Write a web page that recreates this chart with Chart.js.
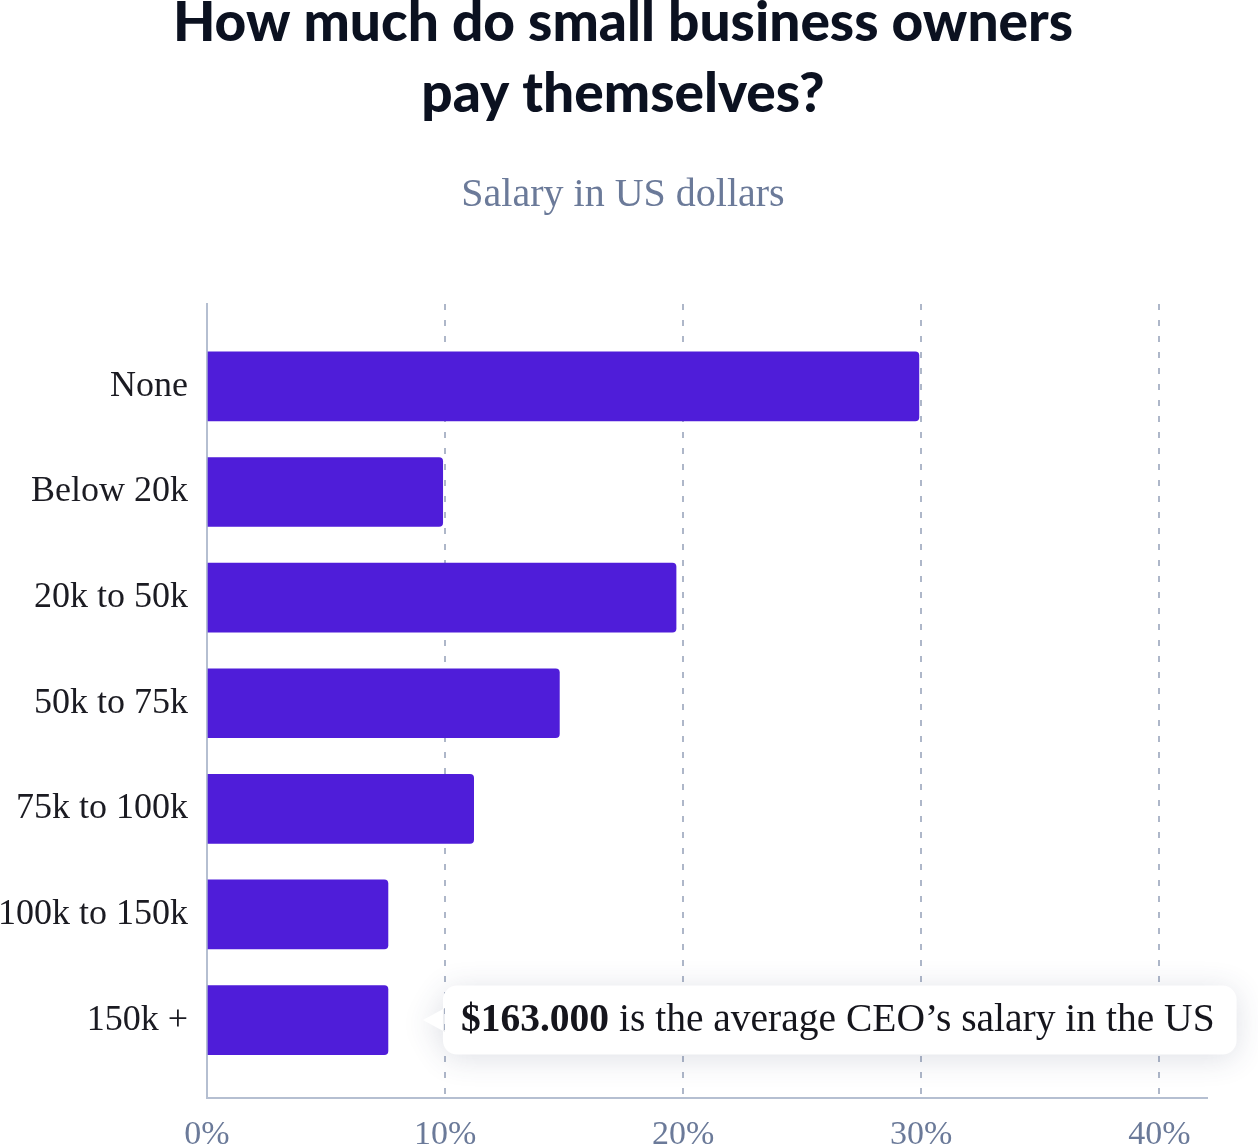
<!DOCTYPE html>
<html>
<head>
<meta charset="utf-8">
<script src="https://cdn.jsdelivr.net/npm/chart.js@4.4.0/dist/chart.umd.min.js"></script>
<style>
  html, body { margin: 0; padding: 0; background: #fff; }
  #wrap { width: 1258px; height: 1147px; }
</style>
</head>
<body>
<div id="wrap"><canvas id="chartCanvas"></canvas></div>
<script>
const titleLines = ['How much do small business owners', 'pay themselves?'];
const subtitleText = 'Salary in US dollars';
const categories = ['None', 'Below 20k', '20k to 50k', '50k to 75k', '75k to 100k', '100k to 150k', '150k +'];
const shares = [29.9, 9.9, 19.7, 14.8, 11.2, 7.6, 7.6];
const xTicks = [0, 10, 20, 30, 40];
const calloutIndex = 6;
const calloutBold = '$163.000';
const calloutText = ' is the average CEO\u2019s salary in the US';

const serif = '"Liberation Serif", "Times New Roman", serif';

// speech bubble next to the last bar
const calloutPlugin = {
  id: 'callout',
  afterDatasetsDraw(chart) {
    const bar = chart.getDatasetMeta(0).data[calloutIndex];
    if (!bar) return;
    const ctx = chart.ctx;
    const h = bar.height;
    const left = bar.x + 55;
    const top = bar.y - h / 2;

    ctx.save();
    ctx.font = 'bold 39.5px ' + serif;
    const w1 = ctx.measureText(calloutBold).width;
    ctx.font = '39.5px ' + serif;
    const w2 = ctx.measureText(calloutText).width;
    const w = 18 + w1 + w2 + 22;

    ctx.shadowColor = 'rgba(50, 60, 100, 0.16)';
    ctx.shadowBlur = 30;
    ctx.shadowOffsetY = 4;
    ctx.fillStyle = '#ffffff';
    ctx.beginPath();
    ctx.roundRect(left, top, w, h, 14);
    ctx.moveTo(left + 2, bar.y - 12);
    ctx.lineTo(left - 20, bar.y);
    ctx.lineTo(left + 2, bar.y + 12);
    ctx.closePath();
    ctx.fill();
    ctx.restore();

    ctx.save();
    ctx.fillStyle = '#15151c';
    ctx.textBaseline = 'middle';
    ctx.textAlign = 'left';
    ctx.font = 'bold 39.5px ' + serif;
    ctx.fillText(calloutBold, left + 18, bar.y + 1);
    ctx.font = '39.5px ' + serif;
    ctx.fillText(calloutText, left + 18 + w1, bar.y + 1);
    ctx.restore();
  }
};

const ctx = document.getElementById('chartCanvas').getContext('2d');
window.chart = new Chart(ctx, {
  type: 'bar',
  data: {
    labels: categories,
    datasets: [{
      data: shares,
      backgroundColor: '#4f1dd9',
      borderRadius: 4,
      borderSkipped: 'start',
      barThickness: 69
    }]
  },
  plugins: [calloutPlugin],
  options: {
    indexAxis: 'y',
    responsive: true,
    maintainAspectRatio: false,
    animation: false,
    layout: { padding: { top: -12, right: 12, bottom: -24, left: 0 } },
    plugins: {
      legend: { display: false },
      tooltip: { enabled: false },
      title: {
        display: true,
        text: titleLines,
        color: '#0b1120',
        font: { family: 'Lato, "Noto Sans", sans-serif', size: 55, weight: '900', lineHeight: 71 / 55 },
        padding: { top: 0, bottom: 41 }
      },
      subtitle: {
        display: true,
        text: subtitleText,
        color: '#6b7a99',
        font: { family: serif, size: 40, lineHeight: 1.2 },
        padding: { top: 0, bottom: 85 }
      }
    },
    scales: {
      x: {
        min: 0,
        max: 42,
        afterBuildTicks: s => { s.ticks = xTicks.map(v => ({ value: v })); },
        ticks: {
          color: '#6b7a99',
          font: { family: serif, size: 34 },
          padding: 16,
          callback: v => v + '%'
        },
        grid: {
          color: '#aeb7c9',
          lineWidth: 2,
          drawTicks: false
        },
        border: { display: true, color: '#b5bfd1', width: 2, dash: [6, 10] }
      },
      y: {
        // leave extra room above the first and below the last bar
        afterBuildTicks: s => { s._startValue = -0.78; s._valueRange = 7.52; },
        afterFit: s => { s.width = 207; },
        ticks: {
          color: '#1b1b22',
          font: { family: serif, size: 36 },
          padding: 19
        },
        grid: { display: false, drawTicks: false },
        border: { display: true, color: '#b5bfd1', width: 2 }
      },
      // empty right-hand spacer so the plot stops short of the callout edge
      yRight: {
        position: 'right',
        afterFit: s => { s.width = 39; },
        ticks: { display: false },
        grid: { display: false, drawTicks: false },
        border: { display: false }
      }
    }
  }
});
</script>
</body>
</html>
